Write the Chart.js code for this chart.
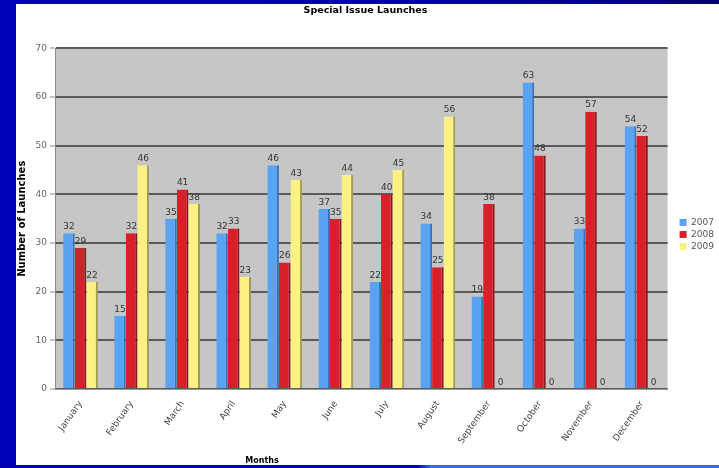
<!DOCTYPE html>
<html>
<head>
<meta charset="utf-8">
<script src="https://cdn.jsdelivr.net/npm/chart.js@4"></script>
<style>
    html, body { margin: 0; padding: 0; }
    body {
        width: 719px; height: 468px; overflow: hidden; position: relative;
        background: linear-gradient(90deg, #0000b8 0%, #0000b0 60%, #000070 100%);
    }
    .bottom { position: absolute; left: 0; top: 465px; width: 719px; height: 3px;
        background: linear-gradient(90deg, #0000b0 0%, #0000b0 58%, #3a6ee8 60%, #3a6ee8 100%); }
    .chart { position: absolute; left: 16px; top: 4px; width: 703px; height: 461px; background: #fff; }
</style>
</head>
<body>
<div class="bottom"></div>
<div class="chart"><canvas id="myChart" width="703" height="461"></canvas></div>
<script>
const months = ['January', 'February', 'March', 'April', 'May', 'June', 'July',
    'August', 'September', 'October', 'November', 'December'];
const launches2007 = [32, 15, 35, 32, 46, 37, 22, 34, 19, 63, 33, 54];
const launches2008 = [29, 32, 41, 33, 26, 35, 40, 25, 38, 48, 57, 52];
const launches2009 = [22, 46, 38, 23, 43, 44, 45, 56, 0, 0, 0, 0];
const years = ['2007', '2008', '2009'];
const yMax = 70;
const yStep = 10;

const font = 'DejaVu Sans';

// gray plot area behind the bars
const plotBackground = {
    id: 'plotBackground',
    beforeDraw(chart) {
        const { ctx, chartArea } = chart;
        ctx.save();
        ctx.fillStyle = '#c6c6c6';
        ctx.fillRect(chartArea.left, chartArea.top, chartArea.right - chartArea.left, chartArea.bottom - chartArea.top);
        ctx.restore();
    }
};

// value above every bar
const valueLabels = {
    id: 'valueLabels',
    afterDatasetsDraw(chart) {
        const ctx = chart.ctx;
        ctx.save();
        ctx.font = '9px "' + font + '"';
        ctx.fillStyle = '#333';
        ctx.textAlign = 'center';
        ctx.textBaseline = 'bottom';
        chart.data.datasets.forEach((ds, i) => {
            chart.getDatasetMeta(i).data.forEach((bar, j) => {
                ctx.fillText(ds.data[j], bar.x, bar.y - 2);
            });
        });
        ctx.restore();
    }
};

// x axis title sits left of centre in the original
const monthsTitle = {
    id: 'monthsTitle',
    afterDraw(chart) {
        const { ctx, chartArea } = chart;
        ctx.save();
        ctx.font = 'bold 8px "' + font + '"';
        ctx.fillStyle = '#000';
        ctx.textAlign = 'center';
        ctx.textBaseline = 'middle';
        ctx.fillText('Months', chartArea.left + (chartArea.right - chartArea.left) * 0.338, chart.height - 4);
        ctx.restore();
    }
};

// legend sits a little further right than chart.js puts it
const legendShift = {
    id: 'legendShift',
    afterLayout(chart) {
        chart.legend.left += 9;
        chart.legend.right += 9;
    }
};

const data = {
    labels: months,
    datasets: [{
        label: years[0],
        data: launches2007,
        backgroundColor: '#5aa2f2',
        borderColor: '#3c72b4',
        borderWidth: { right: 2, top: 0, left: 0, bottom: 0 }
    }, {
        label: years[1],
        data: launches2008,
        backgroundColor: '#d8202a',
        borderColor: '#8c161b',
        borderWidth: { right: 2, top: 0, left: 0, bottom: 0 }
    }, {
        label: years[2],
        data: launches2009,
        backgroundColor: '#fdf183',
        borderColor: '#a29c55',
        borderWidth: { right: 2, top: 0, left: 0, bottom: 0 }
    }]
};

const config = {
    type: 'bar',
    data: data,
    options: {
        responsive: false,
        animation: false,
        devicePixelRatio: 1,
        categoryPercentage: 0.68,
        barPercentage: 1.0,
        layout: { padding: { top: 0, right: 4, left: 0, bottom: 0 } },
        plugins: {
            title: {
                display: true,
                text: 'Special Issue Launches',
                color: '#000',
                font: { family: font, size: 9.5, weight: 'bold' },
                padding: { top: 1, bottom: 32 }
            },
            legend: {
                position: 'right',
                labels: {
                    boxWidth: 7,
                    boxHeight: 7,
                    padding: 3,
                    color: '#555',
                    font: { family: font, size: 9 },
                    generateLabels(chart) {
                        return chart.data.datasets.map((ds, i) => ({
                            text: ds.label,
                            fillStyle: ds.backgroundColor,
                            strokeStyle: ds.backgroundColor,
                            lineWidth: 0,
                            fontColor: '#555',
                            datasetIndex: i
                        }));
                    }
                }
            },
            tooltip: { enabled: false }
        },
        scales: {
            x: {
                grid: { display: false },
                border: { color: '#999' },
                ticks: {
                    color: '#444',
                    font: { family: font, size: 9 },
                    maxRotation: 55,
                    minRotation: 55,
                    padding: 2
                },
                afterFit(scale) { scale.height = 76; }
            },
            y: {
                min: 0,
                max: yMax,
                ticks: {
                    stepSize: yStep,
                    color: '#666',
                    font: { family: font, size: 9 },
                    padding: 3
                },
                grid: { color: '#5a5a5a', lineWidth: 2, tickLength: 5, tickColor: '#888', tickWidth: 1 },
                border: { color: '#888' },
                title: {
                    display: true,
                    text: 'Number of Launches',
                    color: '#000',
                    font: { family: font, size: 10, weight: 'bold' },
                    padding: 0
                },
                afterFit(scale) { scale.width = 39; }
            }
        }
    },
    plugins: [plotBackground, valueLabels, monthsTitle, legendShift]
};

const myChart = new Chart(document.getElementById('myChart'), config);
</script>
</body>
</html>
